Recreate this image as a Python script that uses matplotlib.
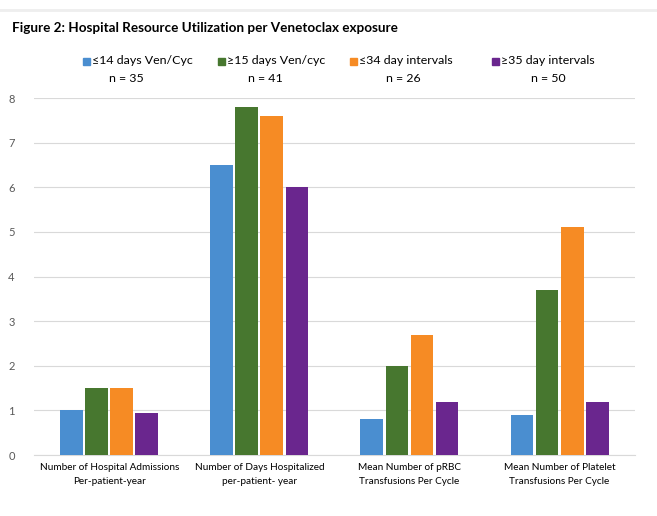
import matplotlib
matplotlib.use("Agg")
import matplotlib.pyplot as plt
import numpy as np
from matplotlib.patches import Rectangle

plt.rcParams['font.family'] = ['Lato', 'DejaVu Sans']

categories = ["Number of Hospital Admissions\nPer-patient-year",
              "Number of Days Hospitalized\nper-patient- year",
              "Mean Number of pRBC\nTransfusions Per Cycle",
              "Mean Number of Platelet\nTransfusions Per Cycle"]
series_names = ["\u226414 days Ven/Cyc", "\u226515 days Ven/cyc",
                "\u226434 day intervals", "\u226535 day intervals"]
series_n = ["n = 35", "n = 41", "n = 26", "n = 50"]
le14_ven = [1.0, 6.5, 0.8, 0.9]
ge15_ven = [1.5, 7.8, 2.0, 3.7]
le34_int = [1.5, 7.6, 2.7, 5.1]
ge35_int = [0.95, 6.0, 1.2, 1.2]
series = [le14_ven, ge15_ven, le34_int, ge35_int]
colors = ["#4A8ED0", "#47772F", "#F68B24", "#6A268E"]
yticks = [0, 1, 2, 3, 4, 5, 6, 7, 8]

fig = plt.figure(figsize=(6.57, 5.16), dpi=100)
ax = fig.add_axes([0.052, 0.118, 0.914, 0.692])

x = np.arange(len(categories))
pitch = 0.167
width = 0.152
for i, (vals, c) in enumerate(zip(series, colors)):
    ax.bar(x + (i - 1.5) * pitch, vals, width=width, color=c, zorder=3)

ax.set_xlim(-0.5, 3.5)
ax.set_ylim(0, 8)
ax.set_yticks(yticks)
ax.yaxis.grid(True, color="#D9D9D9", linewidth=0.8, zorder=0)
for s in ["top", "right", "left"]:
    ax.spines[s].set_visible(False)
ax.spines["bottom"].set_color("#D9D9D9")
ax.tick_params(axis="y", length=0, labelsize=8, labelcolor="#595959", pad=14)
ax.tick_params(axis="x", length=0, labelsize=7.2, pad=6)
ax.set_xticks(x)
ax.set_xticklabels(categories, linespacing=1.6)

fig.text(0.018, 0.945, "Figure 2: Hospital Resource Utilization per Venetoclax exposure",
         fontsize=9.7, fontweight="bold", va="center", ha="left")

# legend (manual)
sq_x = [83, 218, 350, 492]
n_x = [126, 265, 403, 548]
W, H = 657, 516
for sx, nx, name, n, c in zip(sq_x, n_x, series_names, series_n, colors):
    fig.add_artist(Rectangle((sx / W, 1 - 65 / H), 7 / W, 7 / H, color=c,
                             transform=fig.transFigure))
    fig.text((sx + 9) / W, 1 - 61 / H, name, fontsize=8.9, va="center", ha="left")
    fig.text(nx / W, 1 - 79 / H, n, fontsize=8.9, va="center", ha="center")

fig.add_artist(plt.Line2D([0, 1], [1 - 10 / H, 1 - 10 / H], color="#EEEEEE",
                          linewidth=2, transform=fig.transFigure))

fig.savefig("out.png", dpi=100)
